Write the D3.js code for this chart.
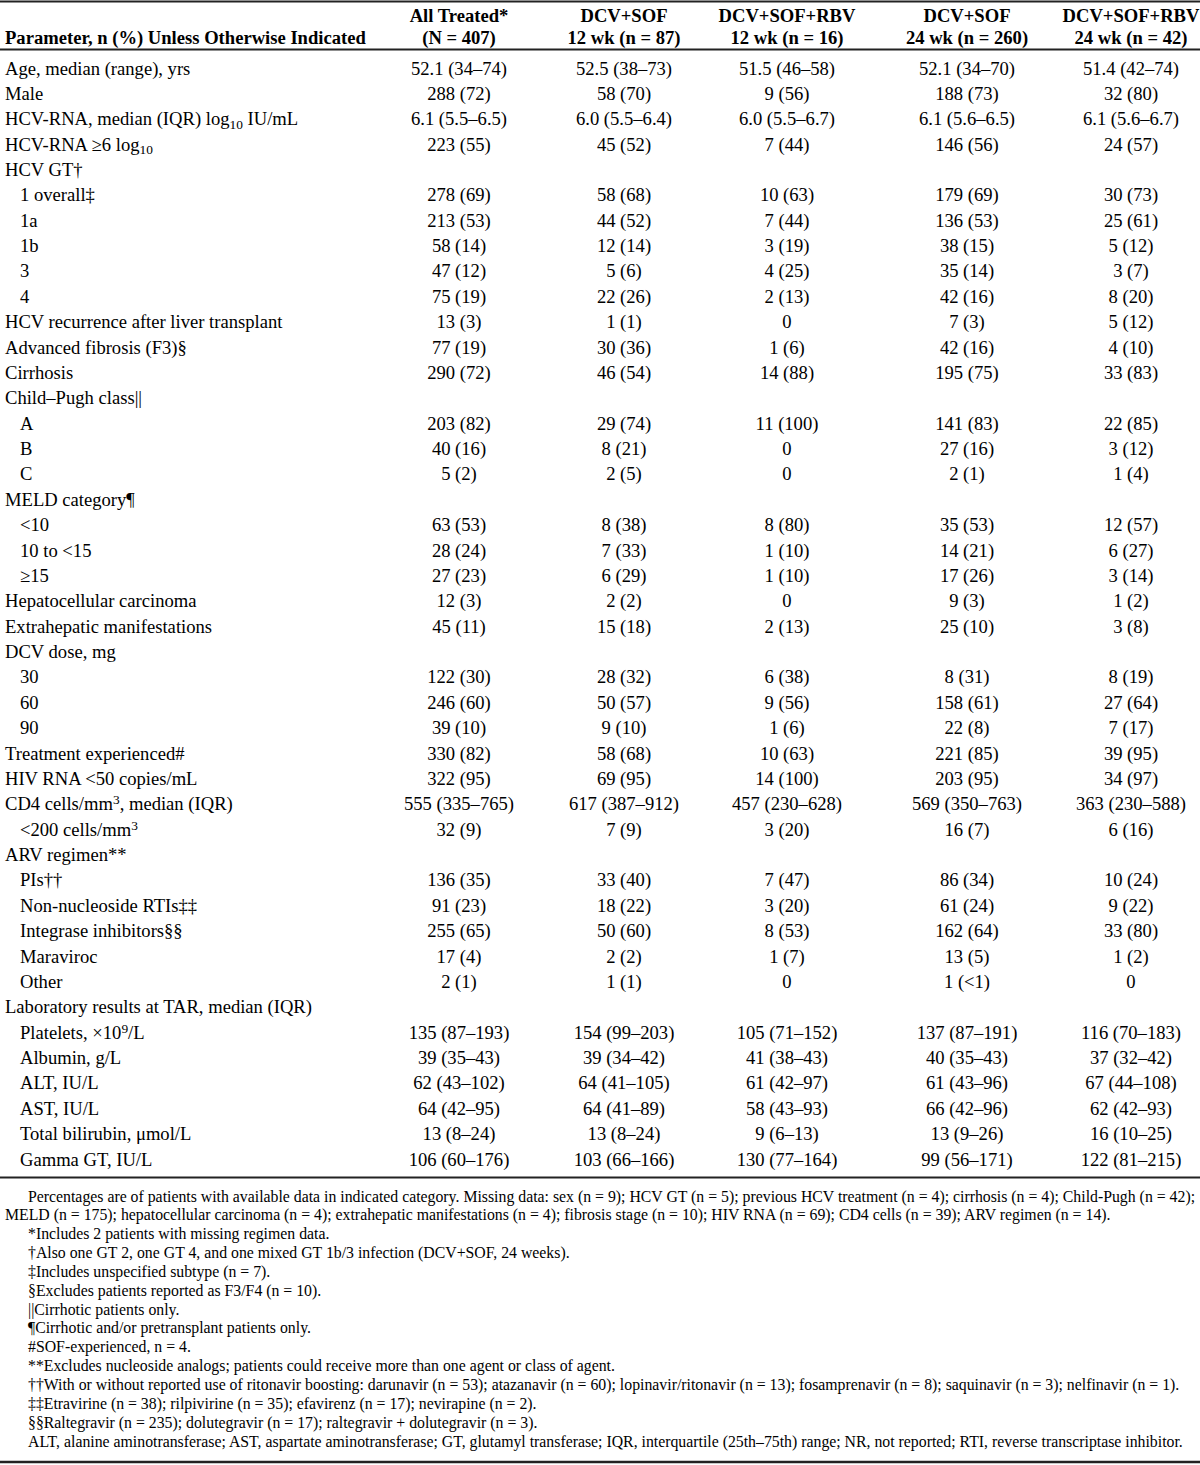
<!DOCTYPE html>
<html>
<head>
<meta charset="utf-8">
<script src="https://cdn.jsdelivr.net/npm/d3@7"></script>
<style>
  html, body { margin: 0; padding: 0; background: #fff; }
  svg { display: block; }
  text { font-family: "Liberation Serif", "Times New Roman", serif; fill: #000; }
</style>
</head>
<body>
<div id="chart"></div>
<script>
// ---------- DATA ----------
const headerLine1 = ["", "All Treated*", "DCV+SOF", "DCV+SOF+RBV", "DCV+SOF", "DCV+SOF+RBV"];
const headerLine2 = ["Parameter, n (%) Unless Otherwise Indicated", "(N = 407)", "12 wk (n = 87)", "12 wk (n = 16)", "24 wk (n = 260)", "24 wk (n = 42)"];

// row labels (_{x} = subscript, ^{x} = superscript)
const rowLabels = [
  "Age, median (range), yrs", "Male", "HCV-RNA, median (IQR) log_{10} IU/mL", "HCV-RNA ≥6 log_{10}",
  "HCV GT†", "1 overall‡", "1a", "1b", "3", "4",
  "HCV recurrence after liver transplant", "Advanced fibrosis (F3)§", "Cirrhosis",
  "Child–Pugh class||", "A", "B", "C",
  "MELD category¶", "<10", "10 to <15", "≥15",
  "Hepatocellular carcinoma", "Extrahepatic manifestations",
  "DCV dose, mg", "30", "60", "90",
  "Treatment experienced#", "HIV RNA <50 copies/mL", "CD4 cells/mm^{3}, median (IQR)", "<200 cells/mm^{3}",
  "ARV regimen**", "PIs††", "Non-nucleoside RTIs‡‡", "Integrase inhibitors§§", "Maraviroc", "Other",
  "Laboratory results at TAR, median (IQR)", "Platelets, ×10^{9}/L", "Albumin, g/L", "ALT, IU/L", "AST, IU/L",
  "Total bilirubin, μmol/L", "Gamma GT, IU/L"
];
const rowIndent = [
  0,0,0,0, 0,1,1,1,1,1, 0,0,0, 0,1,1,1, 0,1,1,1, 0,0, 0,1,1,1, 0,0,0,1, 0,1,1,1,1,1, 0,1,1,1,1,1,1
];
const allTreated = [
  "52.1 (34–74)","288 (72)","6.1 (5.5–6.5)","223 (55)","","278 (69)","213 (53)","58 (14)","47 (12)","75 (19)",
  "13 (3)","77 (19)","290 (72)","","203 (82)","40 (16)","5 (2)","","63 (53)","28 (24)","27 (23)",
  "12 (3)","45 (11)","","122 (30)","246 (60)","39 (10)","330 (82)","322 (95)","555 (335–765)","32 (9)",
  "","136 (35)","91 (23)","255 (65)","17 (4)","2 (1)","","135 (87–193)","39 (35–43)","62 (43–102)","64 (42–95)",
  "13 (8–24)","106 (60–176)"
];
const dcvSof12 = [
  "52.5 (38–73)","58 (70)","6.0 (5.5–6.4)","45 (52)","","58 (68)","44 (52)","12 (14)","5 (6)","22 (26)",
  "1 (1)","30 (36)","46 (54)","","29 (74)","8 (21)","2 (5)","","8 (38)","7 (33)","6 (29)",
  "2 (2)","15 (18)","","28 (32)","50 (57)","9 (10)","58 (68)","69 (95)","617 (387–912)","7 (9)",
  "","33 (40)","18 (22)","50 (60)","2 (2)","1 (1)","","154 (99–203)","39 (34–42)","64 (41–105)","64 (41–89)",
  "13 (8–24)","103 (66–166)"
];
const dcvSofRbv12 = [
  "51.5 (46–58)","9 (56)","6.0 (5.5–6.7)","7 (44)","","10 (63)","7 (44)","3 (19)","4 (25)","2 (13)",
  "0","1 (6)","14 (88)","","11 (100)","0","0","","8 (80)","1 (10)","1 (10)",
  "0","2 (13)","","6 (38)","9 (56)","1 (6)","10 (63)","14 (100)","457 (230–628)","3 (20)",
  "","7 (47)","3 (20)","8 (53)","1 (7)","0","","105 (71–152)","41 (38–43)","61 (42–97)","58 (43–93)",
  "9 (6–13)","130 (77–164)"
];
const dcvSof24 = [
  "52.1 (34–70)","188 (73)","6.1 (5.6–6.5)","146 (56)","","179 (69)","136 (53)","38 (15)","35 (14)","42 (16)",
  "7 (3)","42 (16)","195 (75)","","141 (83)","27 (16)","2 (1)","","35 (53)","14 (21)","17 (26)",
  "9 (3)","25 (10)","","8 (31)","158 (61)","22 (8)","221 (85)","203 (95)","569 (350–763)","16 (7)",
  "","86 (34)","61 (24)","162 (64)","13 (5)","1 (<1)","","137 (87–191)","40 (35–43)","61 (43–96)","66 (42–96)",
  "13 (9–26)","99 (56–171)"
];
const dcvSofRbv24 = [
  "51.4 (42–74)","32 (80)","6.1 (5.6–6.7)","24 (57)","","30 (73)","25 (61)","5 (12)","3 (7)","8 (20)",
  "5 (12)","4 (10)","33 (83)","","22 (85)","3 (12)","1 (4)","","12 (57)","6 (27)","3 (14)",
  "1 (2)","3 (8)","","8 (19)","27 (64)","7 (17)","39 (95)","34 (97)","363 (230–588)","6 (16)",
  "","10 (24)","9 (22)","33 (80)","1 (2)","0","","116 (70–183)","37 (32–42)","67 (44–108)","62 (42–93)",
  "16 (10–25)","122 (81–215)"
];
const footnotes = [
  "Percentages are of patients with available data in indicated category. Missing data: sex (n = 9); HCV GT (n = 5); previous HCV treatment (n = 4); cirrhosis (n = 4); Child-Pugh (n = 42);",
  "MELD (n = 175); hepatocellular carcinoma (n = 4); extrahepatic manifestations (n = 4); fibrosis stage (n = 10); HIV RNA (n = 69); CD4 cells (n = 39); ARV regimen (n = 14).",
  "*Includes 2 patients with missing regimen data.",
  "†Also one GT 2, one GT 4, and one mixed GT 1b/3 infection (DCV+SOF, 24 weeks).",
  "‡Includes unspecified subtype (n = 7).",
  "§Excludes patients reported as F3/F4 (n = 10).",
  "||Cirrhotic patients only.",
  "¶Cirrhotic and/or pretransplant patients only.",
  "#SOF-experienced, n = 4.",
  "**Excludes nucleoside analogs; patients could receive more than one agent or class of agent.",
  "††With or without reported use of ritonavir boosting: darunavir (n = 53); atazanavir (n = 60); lopinavir/ritonavir (n = 13); fosamprenavir (n = 8); saquinavir (n = 3); nelfinavir (n = 1).",
  "‡‡Etravirine (n = 38); rilpivirine (n = 35); efavirenz (n = 17); nevirapine (n = 2).",
  "§§Raltegravir (n = 235); dolutegravir (n = 17); raltegravir + dolutegravir (n = 3).",
  "ALT, alanine aminotransferase; AST, aspartate aminotransferase; GT, glutamyl transferase; IQR, interquartile (25th–75th) range; NR, not reported; RTI, reverse transcriptase inhibitor."
];
const footnoteContinuation = [false, true, false, false, false, false, false, false, false, false, false, false, false, false];

// ---------- LAYOUT ----------
const W = 1200, H = 1465;
const columns = [allTreated, dcvSof12, dcvSofRbv12, dcvSof24, dcvSofRbv24];
const colKeys = d3.range(columns.length);

const svg = d3.select("#chart").append("svg").attr("width", W).attr("height", H);

const colX = [459, 624, 787, 967, 1131];
const y = d3.scaleLinear().domain([0, rowLabels.length - 1]).range([68, 1159]);
const yFoot = d3.scaleLinear().domain([0, footnotes.length - 1]).range([1196, 1441]);

const bodySize = 18.6, headSize = 18.6, footSize = 15.8;

// rich text helper
function rich(sel, str) {
  const parts = [];
  const re = /(_\{[^}]*\}|\^\{[^}]*\})/g;
  let last = 0, m;
  while ((m = re.exec(str)) !== null) {
    if (m.index > last) parts.push({t: str.slice(last, m.index), k: "n"});
    parts.push({t: m[0].slice(2, -1), k: m[0][0] === "_" ? "sub" : "sup"});
    last = m.index + m[0].length;
  }
  if (last < str.length) parts.push({t: str.slice(last), k: "n"});
  parts.forEach((p, i) => {
    const ts = sel.append("tspan").text(p.t);
    if (p.k === "sub") ts.attr("font-size", "0.72em").attr("dy", "0.25em");
    if (p.k === "sup") ts.attr("font-size", "0.72em").attr("dy", "-0.45em");
    if (p.k === "n" && i > 0) {
      const prev = parts[i - 1];
      if (prev.k === "sub") ts.attr("dy", "-0.18em");
      if (prev.k === "sup") ts.attr("dy", "0.324em");
    }
  });
}

// rules
const rules = [
  {y: 1.5, w: 2},
  {y: 49.5, w: 2},
  {y: 1177.5, w: 2},
  {y: 1462, w: 2.5}
];
svg.selectAll("line.rule").data(rules).join("line")
  .attr("class", "rule")
  .attr("x1", 0).attr("x2", W)
  .attr("y1", d => d.y).attr("y2", d => d.y)
  .attr("stroke", "#222").attr("stroke-width", d => d.w);

// header
const head = svg.append("g").attr("font-weight", "bold").attr("font-size", headSize);
head.selectAll("text.h1").data(colKeys).join("text")
  .attr("class", "h1")
  .attr("x", i => colX[i]).attr("y", 15).attr("dy", "0.35em")
  .attr("text-anchor", "middle")
  .text(i => headerLine1[i + 1]);
head.selectAll("text.h2").data(colKeys).join("text")
  .attr("class", "h2")
  .attr("x", i => colX[i]).attr("y", 37).attr("dy", "0.35em")
  .attr("text-anchor", "middle")
  .text(i => headerLine2[i + 1]);
head.append("text").attr("x", 5).attr("y", 37).attr("dy", "0.35em").text(headerLine2[0]);

// body labels
const body = svg.append("g").attr("font-size", bodySize);
body.selectAll("text.lab").data(rowLabels).join("text")
  .attr("class", "lab")
  .attr("x", (d, i) => rowIndent[i] ? 20 : 5)
  .attr("y", (d, i) => y(i)).attr("dy", "0.35em")
  .each(function(d) { rich(d3.select(this), d); });

// body values
colKeys.forEach(c => {
  body.selectAll("text.v" + c).data(columns[c]).join("text")
    .attr("class", "v" + c)
    .attr("x", colX[c])
    .attr("y", (d, i) => y(i)).attr("dy", "0.35em")
    .attr("text-anchor", "middle")
    .text(d => d);
});

// footnotes
const foot = svg.append("g").attr("font-size", footSize);
foot.selectAll("text").data(footnotes).join("text")
  .attr("x", (d, i) => footnoteContinuation[i] ? 5 : 28)
  .attr("y", (d, i) => yFoot(i)).attr("dy", "0.35em")
  .text(d => d);
</script>
</body>
</html>
